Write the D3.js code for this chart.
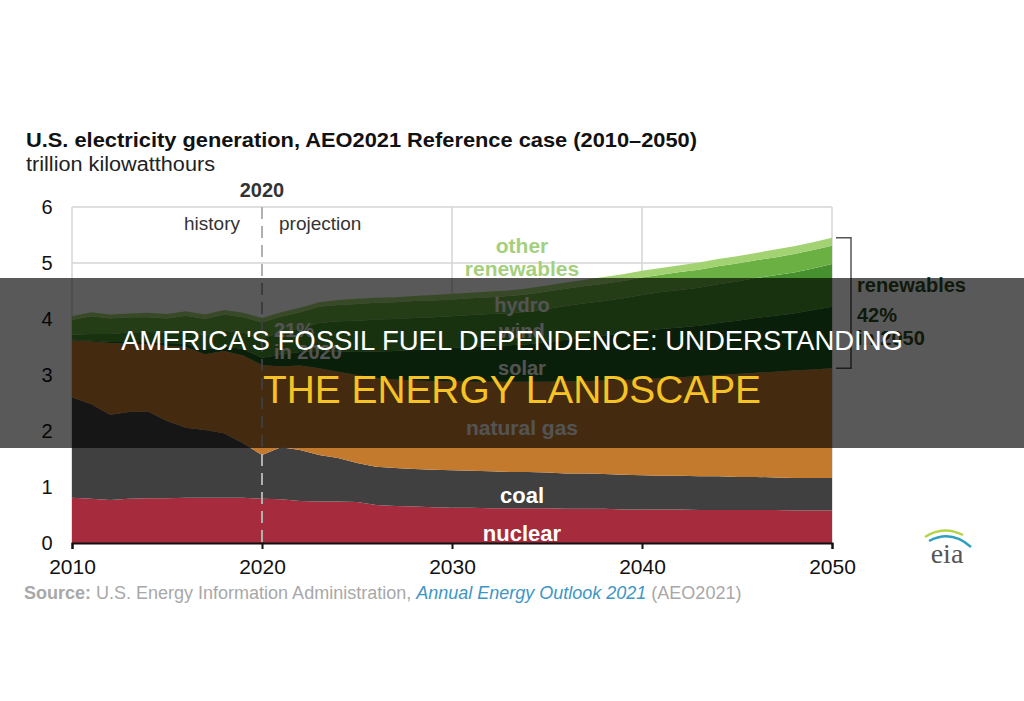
<html>
<head>
<meta charset="utf-8">
<script src="https://cdn.jsdelivr.net/npm/d3@7"></script>
<style>
  body { margin: 0; background: #fff; }
  text { font-family: "Liberation Sans", Arial, sans-serif; }
</style>
</head>
<body>
<svg width="1024" height="701"></svg>
<script>
// years on the x axis
var years = [2010, 2011, 2012, 2013, 2014, 2015, 2016, 2017, 2018, 2019, 2020,
             2021, 2022, 2023, 2024, 2025, 2026, 2027, 2028, 2029, 2030,
             2031, 2032, 2033, 2034, 2035, 2036, 2037, 2038, 2039, 2040,
             2041, 2042, 2043, 2044, 2045, 2046, 2047, 2048, 2049, 2050];

// generation, trillion kWh
var nuclear = [.81, .79, .77, .79, .80, .80, .81, .81, .81, .81, .79,
               .78, .75, .74, .74, .73, .68, .66, .65, .64, .63,
               .63, .62, .62, .62, .62, .61, .61, .61, .60, .60,
               .60, .60, .59, .59, .59, .59, .59, .58, .58, .58];
var coal = [1.79, 1.69, 1.52, 1.55, 1.55, 1.38, 1.25, 1.21, 1.15, .97, .78,
            .93, .91, .83, .78, .70, .68, .68, .67, .67, .67,
            .66, .66, .65, .65, .64, .63, .63, .62, .62, .61,
            .60, .60, .60, .60, .59, .59, .58, .58, .58, .58];
var naturalGas = [1.02, 1.12, 1.28, 1.22, 1.20, 1.34, 1.44, 1.35, 1.47, 1.57, 1.61,
                  1.44, 1.51, 1.55, 1.54, 1.57, 1.59, 1.58, 1.58, 1.58, 1.59,
                  1.59, 1.60, 1.61, 1.61, 1.62, 1.65, 1.65, 1.67, 1.69, 1.71,
                  1.74, 1.76, 1.79, 1.81, 1.84, 1.86, 1.89, 1.92, 1.94, 1.96];
var solar = [.01, .01, .02, .03, .04, .05, .06, .08, .09, .11, .13,
             .21, .24, .31, .36, .41, .47, .51, .55, .57, .59,
             .62, .64, .65, .67, .71, .74, .78, .80, .83, .86,
             .88, .89, .90, .93, .95, .98, 1.00, 1.02, 1.06, 1.10];
var wind = [.09, .12, .14, .17, .18, .19, .23, .25, .27, .30, .34,
            .40, .42, .50, .54, .56, .57, .57, .57, .57, .57,
            .57, .57, .57, .58, .59, .60, .61, .62, .63, .65,
            .66, .67, .68, .69, .70, .71, .72, .73, .74, .76];
var hydro = [.26, .32, .28, .27, .26, .25, .27, .30, .29, .27, .29,
             .28, .29, .29, .29, .30, .30, .30, .30, .30, .30,
             .30, .30, .31, .31, .31, .31, .31, .31, .31, .31,
             .31, .32, .32, .32, .32, .32, .32, .33, .33, .33];
var otherRenewables = [.07, .07, .07, .07, .08, .08, .08, .08, .08, .08, .08,
                       .08, .08, .08, .09, .09, .09, .09, .09, .10, .10,
                       .10, .10, .10, .11, .11, .11, .11, .12, .12, .12,
                       .12, .12, .13, .13, .13, .13, .14, .14, .14, .14];

var keys = ["nuclear", "coal", "naturalGas", "solar", "wind", "hydro", "otherRenewables"];
var colors = {
    nuclear: "#a52b3d",
    coal: "#404040",
    naturalGas: "#c47a2d",
    solar: "#1f5a1a",
    wind: "#46902f",
    hydro: "#6bb043",
    otherRenewables: "#a2d272"
};
var yTicks = [0, 1, 2, 3, 4, 5, 6];
var xTicks = [2010, 2020, 2030, 2040, 2050];

var svg = d3.select("svg");

var x = d3.scaleLinear().domain([2010, 2050]).range([72, 832]);
var y = d3.scaleLinear().domain([0, 6]).range([543, 207]);

var rows = years.map(function(yr, i) {
    return {
        year: yr, nuclear: nuclear[i], coal: coal[i], naturalGas: naturalGas[i],
        solar: solar[i], wind: wind[i], hydro: hydro[i], otherRenewables: otherRenewables[i]
    };
});
var series = d3.stack().keys(keys)(rows);

// titles
svg.append("text").attr("x", 26).attr("y", 147)
    .attr("textLength", 671).attr("lengthAdjust", "spacingAndGlyphs")
    .style("font-size", "21px").style("font-weight", "bold").attr("fill", "#111")
    .text("U.S. electricity generation, AEO2021 Reference case (2010–2050)");
svg.append("text").attr("x", 26).attr("y", 171)
    .attr("textLength", 189).attr("lengthAdjust", "spacingAndGlyphs")
    .style("font-size", "20px").attr("fill", "#222")
    .text("trillion kilowatthours");

// grid
var grid = svg.append("g");
grid.selectAll("line.h").data(yTicks.slice(1)).enter().append("line")
    .attr("x1", x(2010)).attr("x2", x(2050))
    .attr("y1", function(d) { return y(d); }).attr("y2", function(d) { return y(d); })
    .attr("stroke", "#d4d4d4").attr("stroke-width", 1.5);
grid.selectAll("line.v").data([2010, 2030, 2040, 2050]).enter().append("line")
    .attr("x1", function(d) { return x(d); }).attr("x2", function(d) { return x(d); })
    .attr("y1", y(6)).attr("y2", y(0))
    .attr("stroke", "#d4d4d4").attr("stroke-width", 1.5);

// areas
var area = d3.area()
    .x(function(d) { return x(d.data.year); })
    .y0(function(d) { return y(d[0]); })
    .y1(function(d) { return y(d[1]); });

svg.append("g").selectAll("path").data(series).enter().append("path")
    .attr("d", area)
    .attr("fill", function(d) { return colors[d.key]; });

// 2020 divider
svg.append("line")
    .attr("x1", x(2020)).attr("x2", x(2020)).attr("y1", y(6)).attr("y2", y(0))
    .attr("stroke", "#b0b0b0").attr("stroke-width", 2).attr("stroke-dasharray", "12,7");
svg.append("text").attr("x", x(2020)).attr("y", 197).attr("text-anchor", "middle")
    .style("font-size", "20px").style("font-weight", "bold").attr("fill", "#333").text("2020");
svg.append("text").attr("x", x(2020) - 22).attr("y", 230).attr("text-anchor", "end")
    .style("font-size", "19px").attr("fill", "#333").text("history");
svg.append("text").attr("x", x(2020) + 17).attr("y", 230)
    .style("font-size", "19px").attr("fill", "#333").text("projection");

// axes
var xAxis = svg.append("g").attr("transform", "translate(0," + y(0) + ")")
    .call(d3.axisBottom(x).tickValues(xTicks).tickFormat(d3.format("d")).tickSize(6).tickPadding(10));
xAxis.select(".domain").attr("stroke", "#111").attr("stroke-width", 2);
xAxis.selectAll(".tick line").attr("stroke", "#111").attr("stroke-width", 2);
xAxis.selectAll("text").style("font-size", "21px").attr("fill", "#111")
    .style("font-family", "Liberation Sans, Arial, sans-serif");

var yAxis = svg.append("g").attr("transform", "translate(58,0)")
    .call(d3.axisLeft(y).tickValues(yTicks).tickFormat(d3.format("d")).tickSize(0).tickPadding(0));
yAxis.select(".domain").remove();
yAxis.selectAll("text").style("font-size", "20px").attr("fill", "#111")
    .attr("text-anchor", "middle").attr("x", -11)
    .style("font-family", "Liberation Sans, Arial, sans-serif");

// series labels
var lab = svg.append("g").style("font-weight", "bold").style("font-size", "20px")
    .attr("text-anchor", "middle");
lab.append("text").attr("x", 522).attr("y", 253).attr("fill", "#a4d07e").style("font-size", "21px").text("other");
lab.append("text").attr("x", 522).attr("y", 276).attr("fill", "#a4d07e").style("font-size", "21px").text("renewables");
lab.append("text").attr("x", 522).attr("y", 312).attr("fill", "#eeeeee").text("hydro");
lab.append("text").attr("x", 522).attr("y", 338).attr("fill", "#eeeeee").text("wind");
lab.append("text").attr("x", 522).attr("y", 375).attr("fill", "#eeeeee").text("solar");
lab.append("text").attr("x", 522).attr("y", 435).attr("fill", "#eeeeee").style("font-size", "21px").text("natural gas");
lab.append("text").attr("x", 522).attr("y", 503).attr("fill", "#fff").style("font-size", "22px").text("coal");
lab.append("text").attr("x", 522).attr("y", 541).attr("fill", "#fff").style("font-size", "22px").text("nuclear");
lab.append("text").attr("x", 274).attr("y", 337).attr("text-anchor", "start").attr("fill", "#eeeeee").text("21%");
lab.append("text").attr("x", 274).attr("y", 359).attr("text-anchor", "start").attr("fill", "#eeeeee").text("in 2020");

// renewables bracket
var bTop = y(d3.sum(keys, function(k) { return rows[40][k]; }));
var bBot = y(nuclear[40] + coal[40] + naturalGas[40]);
svg.append("path")
    .attr("d", "M836," + bTop + "H851V" + bBot + "H836")
    .attr("fill", "none").attr("stroke", "#555").attr("stroke-width", 1.5);
var rl = svg.append("g").style("font-weight", "bold").style("font-size", "20px").attr("fill", "#2c4a20");
rl.append("text").attr("x", 857).attr("y", 292).text("renewables");
rl.append("text").attr("x", 857).attr("y", 322).text("42%");
rl.append("text").attr("x", 857).attr("y", 345).text("in 2050");

// source
var src = svg.append("text").attr("x", 24).attr("y", 599).style("font-size", "18px").attr("fill", "#a8a8a8");
src.append("tspan").style("font-weight", "bold").text("Source: ");
src.append("tspan").text("U.S. Energy Information Administration, ");
src.append("tspan").style("font-style", "italic").attr("fill", "#3d96c4").text("Annual Energy Outlook 2021");
src.append("tspan").text(" (AEO2021)");

// eia logo
var logo = svg.append("g").attr("transform", "translate(945,555)");
logo.append("path").attr("d", "M-20,-18 Q-2,-30 18,-20").attr("fill", "none").attr("stroke", "#b7d34a").attr("stroke-width", 2.5);
logo.append("path").attr("d", "M-16,-14 Q6,-26 26,-8").attr("fill", "none").attr("stroke", "#2f9fc0").attr("stroke-width", 2.5);
logo.append("text").attr("x", 2).attr("y", 8).attr("text-anchor", "middle")
    .style("font-family", "Liberation Serif, DejaVu Serif, serif").style("font-size", "28px")
    .attr("fill", "#555").text("eia");

// dark banner across the middle
svg.append("rect").attr("x", 0).attr("y", 278).attr("width", 1024).attr("height", 170)
    .attr("fill", "#000").attr("opacity", 0.65);
svg.append("text").attr("x", 512).attr("y", 350).attr("text-anchor", "middle")
    .attr("textLength", 782).attr("lengthAdjust", "spacingAndGlyphs")
    .style("font-size", "28px").attr("fill", "#fff")
    .text("AMERICA'S FOSSIL FUEL DEPENDENCE: UNDERSTANDING");
svg.append("text").attr("x", 512).attr("y", 403).attr("text-anchor", "middle")
    .attr("textLength", 498).attr("lengthAdjust", "spacingAndGlyphs")
    .style("font-size", "38px").attr("fill", "#f6c325")
    .text("THE ENERGY LANDSCAPE");
</script>
</body>
</html>
